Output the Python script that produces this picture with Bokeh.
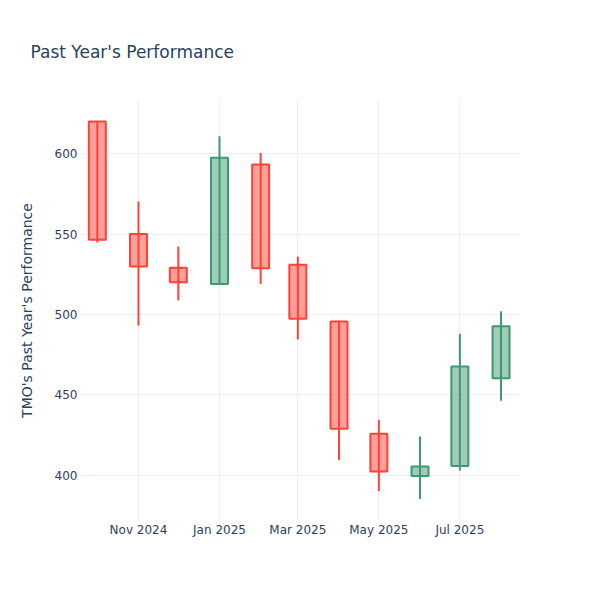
import pandas as pd
from bokeh.plotting import figure
from bokeh.models import Range1d, FixedTicker, DatetimeTickFormatter, ColumnDataSource
from bokeh.embed import file_html
from bokeh.resources import INLINE

# ---- data ----
dates = ["2024-10-01", "2024-11-01", "2024-12-01", "2025-01-01", "2025-02-01",
         "2025-03-01", "2025-04-01", "2025-05-01", "2025-06-01", "2025-07-01", "2025-08-01"]
opens = [620.0, 550.0, 529.0, 519.0, 593.2, 531.0, 495.7, 425.9, 399.6, 405.8, 460.4]
highs = [620.0, 570.2, 542.2, 610.8, 600.4, 536.0, 496.3, 434.6, 424.2, 488.0, 502.0]
lows = [544.7, 493.2, 508.7, 518.5, 519.0, 484.5, 409.7, 390.3, 385.4, 403.0, 446.4]
closes = [546.4, 529.8, 520.1, 597.5, 528.8, 497.3, 429.0, 402.5, 405.6, 467.7, 492.7]
tick_dates = ["2024-11-01", "2025-01-01", "2025-03-01", "2025-05-01", "2025-07-01"]
y_ticks = [400, 450, 500, 550, 600]
title_text = "Past Year's Performance"

INC = "#3D9970"
DEC = "#FF4136"
TXT = "#2a3f5f"
GRID = "#EBF0F8"
FONT = "DejaVu Sans"

dt = pd.to_datetime(dates)
inc = [c >= o for o, c in zip(opens, closes)]
colors = [INC if i else DEC for i in inc]
top = [max(o, c) for o, c in zip(opens, closes)]
bot = [min(o, c) for o, c in zip(opens, closes)]

src = ColumnDataSource(dict(x=dt, high=highs, low=lows, top=top, bot=bot, color=colors))

p = figure(width=592, height=592, x_axis_type="datetime", output_backend="svg",
           toolbar_location=None, tools="",
           x_range=Range1d(pd.Timestamp("2024-09-18 08:00"), pd.Timestamp("2025-08-15 16:00")),
           y_range=Range1d(372, 633),
           min_border_left=80, min_border_right=72, min_border_top=100, min_border_bottom=72)

p.title.text = title_text
p.title.text_font = FONT
p.title.text_font_size = "17px"
p.title.text_font_style = "normal"
p.title.text_color = TXT
p.title.align = "left"
p.title.offset = -50
p.title.standoff = 78

p.outline_line_color = None
p.background_fill_color = "white"
p.border_fill_color = "white"

width_ms = 12.8 * 24 * 3600 * 1000
p.segment(x0="x", y0="low", x1="x", y1="high", source=src, line_color="color", line_width=2)
p.vbar(x="x", top="top", bottom="bot", width=width_ms, source=src,
       fill_color="color", fill_alpha=0.5, line_color="color", line_width=2)

tick_ms = [pd.Timestamp(d).value // 10**6 for d in tick_dates]
p.xaxis.ticker = FixedTicker(ticks=tick_ms)
p.xaxis.formatter = DatetimeTickFormatter(months="%b %Y", days="%b %Y", years="%b %Y")
p.yaxis.ticker = FixedTicker(ticks=y_ticks)

for ax in (p.xaxis, p.yaxis):
    ax.axis_line_color = None
    ax.major_tick_line_color = None
    ax.minor_tick_line_color = None
    ax.major_tick_out = 0
    ax.major_tick_in = 0
    ax.minor_tick_out = 0
    ax.minor_tick_in = 0
    ax.major_label_text_font = FONT
    ax.major_label_text_font_size = "12px"
    ax.major_label_text_color = TXT

p.yaxis.major_label_standoff = 3
p.xaxis.major_label_standoff = 2

p.yaxis.axis_label = "TMO's Past Year's Performance"
p.yaxis.axis_label_text_font = FONT
p.yaxis.axis_label_text_font_size = "14px"
p.yaxis.axis_label_text_font_style = "normal"
p.yaxis.axis_label_text_color = TXT
p.yaxis.axis_label_standoff = 17

p.xgrid.grid_line_color = GRID
p.ygrid.grid_line_color = GRID
p.xgrid.grid_line_width = 1
p.ygrid.grid_line_width = 1

open("out.html", "w").write(file_html(p, INLINE))
